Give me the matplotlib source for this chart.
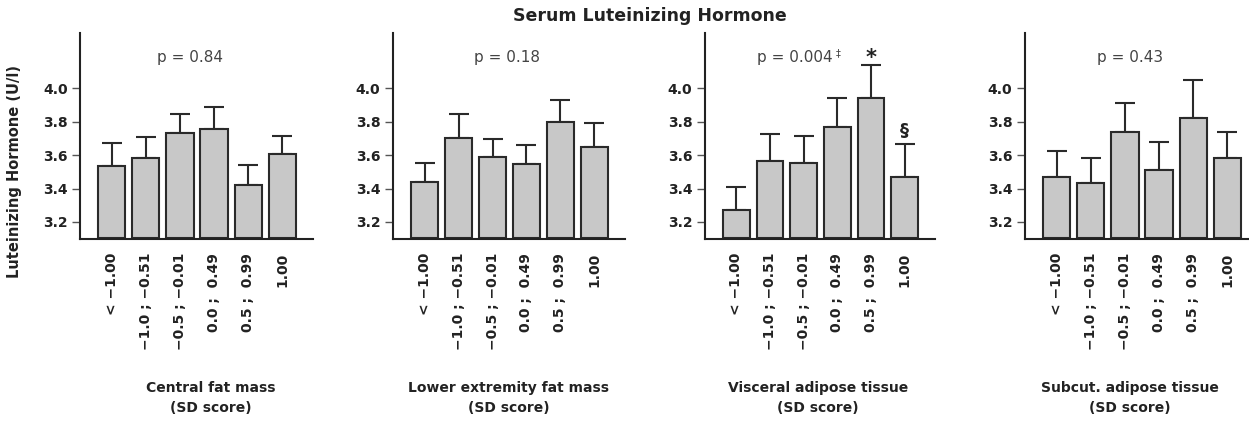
import matplotlib
matplotlib.use('Agg')
import matplotlib.pyplot as plt
import matplotlib.transforms as mtransforms
import numpy as np

# SD score groups (same for all four body-composition measures)
groups = ['< \u22121.00', '\u22121.0 ; \u22120.51', '\u22120.5 ; \u22120.01',
          '0.0 ;  0.49', '0.5 ;  0.99', '1.00']

panel_titles = ['Central fat mass\n(SD score)',
                'Lower extremity fat mass\n(SD score)',
                'Visceral adipose tissue\n(SD score)',
                'Subcut. adipose tissue\n(SD score)']
p_values = ['p = 0.84', 'p = 0.18', 'p = 0.004', 'p = 0.43']

# mean LH (U/l) and upper error (mean + SE) per group
lh_central = [3.535, 3.58, 3.73, 3.757, 3.42, 3.606]
err_central = [3.67, 3.71, 3.845, 3.885, 3.54, 3.715]
lh_lower = [3.44, 3.70, 3.59, 3.545, 3.80, 3.65]
err_lower = [3.553, 3.844, 3.695, 3.66, 3.93, 3.79]
lh_visceral = [3.27, 3.563, 3.553, 3.768, 3.94, 3.47]
err_visceral = [3.41, 3.727, 3.713, 3.94, 4.14, 3.667]
lh_subcut = [3.47, 3.43, 3.74, 3.51, 3.82, 3.58]
err_subcut = [3.625, 3.585, 3.914, 3.68, 4.048, 3.74]

means = [lh_central, lh_lower, lh_visceral, lh_subcut]
uppers = [err_central, err_lower, err_visceral, err_subcut]

y_base = 3.105
y_ticks = [3.2, 3.4, 3.6, 3.8, 4.0]

W, H = 1249, 425
fig = plt.figure(figsize=(W / 100, H / 100), dpi=100)

# axes boxes in pixels: left, width
boxes = [(80, 233), (393, 232), (705, 230), (1025, 233)]
p_xpos = [0.47, 0.49, 0.39, 0.45]
label_xpos = [0.56, 0.50, 0.49, 0.45]

for i in range(4):
    left, width = boxes[i]
    ax = fig.add_axes([left / W, 1 - 239 / H, width / W, 206 / H])
    x = np.arange(len(groups))
    m = np.array(means[i])
    up = np.array(uppers[i])

    ax.bar(x, m - y_base, bottom=y_base, width=0.8, color='#c8c8c8',
           edgecolor='#2a2a2a', linewidth=1.5, zorder=2)
    ax.errorbar(x, m, yerr=[np.zeros_like(m), up - m], fmt='none',
                ecolor='#2a2a2a', elinewidth=1.5, capsize=7, capthick=1.5,
                zorder=1)

    ax.set_xlim(-0.93, 5.9)
    ax.set_ylim(3.098, 4.33)
    ax.set_yticks(y_ticks)
    ax.set_yticklabels([f'{v:.1f}' for v in y_ticks], fontsize=10,
                       fontweight='bold', color='#222222')
    ax.set_xticks(x)
    ax.set_xticklabels(groups, rotation=90, fontsize=10, fontweight='bold',
                       color='#222222')
    ax.tick_params(axis='x', length=0, pad=10)
    ax.tick_params(axis='y', length=6, width=1, color='#555555', pad=3)

    for s in ['top', 'right']:
        ax.spines[s].set_visible(False)
    for s in ['left', 'bottom']:
        ax.spines[s].set_linewidth(1.5)
        ax.spines[s].set_color('#222222')

    # p value: x in axes fraction, y in data units
    trans = mtransforms.blended_transform_factory(ax.transAxes, ax.transData)
    pt = ax.text(p_xpos[i], 4.185, p_values[i], transform=trans, fontsize=11,
                 color='#444444', ha='center', va='center')

    ax.text(label_xpos[i], -0.77, panel_titles[i], transform=ax.transAxes,
            ha='center', va='center', fontsize=10, fontweight='bold',
            color='#222222', linespacing=1.55)

    if i == 2:
        ax.annotate('\u2021', xy=(1, 1), xycoords=pt, xytext=(2, 1),
                    textcoords='offset points', ha='left', va='top',
                    fontsize=7, color='#444444')
        ax.text(4, up[4] - 0.02, '*', ha='center', va='bottom', fontsize=15,
                fontweight='bold', color='#222222')
        ax.text(5, up[5] + 0.025, '\u00a7', ha='center', va='bottom',
                fontsize=13, fontweight='bold', color='#222222')

fig.text(650 / W, 1 - 16 / H, 'Serum Luteinizing Hormone', ha='center',
         va='center', fontsize=12.5, fontweight='bold', color='#222222')
fig.text(15 / W, 1 - 171 / H, 'Luteinizing Hormone (U/l)', rotation=90,
         ha='center', va='center', fontsize=10.5, fontweight='bold',
         color='#222222')

fig.savefig('out.png', dpi=100)
